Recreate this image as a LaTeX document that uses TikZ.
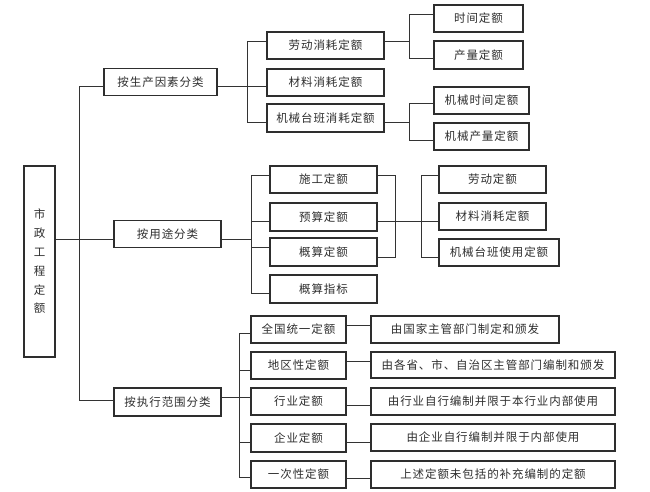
\documentclass[tikz,border=0pt]{standalone}
\usepackage{fontspec}
\setmainfont{Noto Sans CJK SC}
\newcommand\boxfont{\fontsize{11.5}{13}\selectfont\addfontfeature{LetterSpace=8}}
\newcommand\cpt[3]{\coordinate (yref) at (0,#3);\coordinate (#1) at (#2 |- yref);}
\begin{document}
\begin{tikzpicture}[x=1pt,y=-1pt,
  box/.style={draw=black!82, line width=1.2pt, fill=white, inner sep=0pt,
              text=black!82, font=\boxfont, minimum height=27pt},
  conn/.style={draw=black!80, line width=1pt}]
\fill[white] (0,0) rectangle (650,492);
\useasboundingbox (0,0) rectangle (650,492);

% root
\node[box, minimum width=31pt, minimum height=191pt, align=center,
      font=\fontsize{11.5}{18.8}\selectfont] (root) at (39.5,261.5)
      {市\\政\\工\\程\\定\\额};

% level 1
\node[box, minimum width=113pt] (A1) at (160.5,81.7) {按生产因素分类};
\node[box, minimum width=107pt] (A2) at (167.5,233.7) {按用途分类};
\node[box, minimum width=107pt, minimum height=28pt] (A3) at (167.5,402) {按执行范围分类};

% group 1
\node[box, minimum width=117pt] (B1) at (325.5,45.5) {劳动消耗定额};
\node[box, minimum width=117pt] (B2) at (325.5,82.5) {材料消耗定额};
\node[box, minimum width=117pt, minimum height=28pt] (B3) at (325.5,118) {机械台班消耗定额};
\node[box, minimum width=89pt] (C1) at (478.5,18.5) {时间定额};
\node[box, minimum width=89pt, minimum height=28pt] (C2) at (478.5,55) {产量定额};
\node[box, minimum width=95pt] (C3) at (481.5,100.5) {机械时间定额};
\node[box, minimum width=95pt] (C4) at (481.5,136.5) {机械产量定额};

% group 2
\node[box, minimum width=107pt] (D1) at (323.5,179.5) {施工定额};
\node[box, minimum width=107pt, minimum height=28pt] (D2) at (323.5,217) {预算定额};
\node[box, minimum width=107pt, minimum height=28pt] (D3) at (323.5,252) {概算定额};
\node[box, minimum width=107pt, minimum height=28pt] (D4) at (323.5,289) {概算指标};
\node[box, minimum width=107pt] (E1) at (492.5,179.5) {劳动定额};
\node[box, minimum width=107pt] (E2) at (492.5,216.5) {材料消耗定额};
\node[box, minimum width=120pt] (E3) at (499,252.5) {机械台班使用定额};

% group 3
\node[box, minimum width=95pt] (F1) at (298.5,329.5) {全国统一定额};
\node[box, minimum width=95pt] (F2) at (298.5,365.5) {地区性定额};
\node[box, minimum width=95pt] (F3) at (298.5,401.5) {行业定额};
\node[box, minimum width=95pt, minimum height=28pt] (F4) at (298.5,438) {企业定额};
\node[box, minimum width=95pt] (F5) at (298.5,474.5) {一次性定额};
\node[box, minimum width=188pt] (G1) at (465,329.5) {由国家主管部门制定和颁发};
\node[box, minimum width=244pt, minimum height=26pt] (G2) at (493,365) {由各省、市、自治区主管部门编制和颁发};
\node[box, minimum width=244pt] (G3) at (493,401.5) {由行业自行编制并限于本行业内部使用};
\node[box, minimum width=244pt] (G4) at (493,437.5) {由企业自行编制并限于内部使用};
\node[box, minimum width=244pt] (G5) at (493,474.5) {上述定额未包括的补充编制的定额};

% bus positions
\coordinate (trunk) at (79,0);
\coordinate (busB) at (247,0);
\coordinate (busC) at (409,0);
\coordinate (busD) at (251,0);
\coordinate (busE1) at (395,0);
\coordinate (busE2) at (421,0);
\coordinate (busF) at (239,0);

% connection points
\cpt{rootE}{root.east}{239.5}
\cpt{a1w}{A1.west}{87}
\cpt{a1e}{A1.east}{87}
\cpt{a2w}{A2.west}{239.5}
\cpt{a2e}{A2.east}{239.5}
\cpt{a3w}{A3.west}{400}
\cpt{a3e}{A3.east}{397}
\cpt{b1w}{B1.west}{42}
\cpt{b2w}{B2.west}{87}
\cpt{b3w}{B3.west}{123}
\cpt{b1e}{B1.east}{42}
\cpt{b3e}{B3.east}{123}
\cpt{c1w}{C1.west}{15}
\cpt{c2w}{C2.west}{59}
\cpt{c3w}{C3.west}{104}
\cpt{c4w}{C4.west}{140}
\cpt{d1w}{D1.west}{175}
\cpt{d2w}{D2.west}{221}
\cpt{d3w}{D3.west}{247}
\cpt{d4w}{D4.west}{293}
\cpt{d1e}{D1.east}{175}
\cpt{d2e}{D2.east}{221}
\cpt{d3e}{D3.east}{257}
\cpt{e1w}{E1.west}{175}
\cpt{e2w}{E2.west}{221}
\cpt{e3w}{E3.west}{257}
\cpt{f1w}{F1.west}{333}
\cpt{f2w}{F2.west}{370}
\cpt{f3w}{F3.west}{397}
\cpt{f4w}{F4.west}{442}
\cpt{f5w}{F5.west}{477}
\cpt{f1e}{F1.east}{325}
\cpt{f2e}{F2.east}{361}
\cpt{f3e}{F3.east}{405}
\cpt{f4e}{F4.east}{442}
\cpt{f5e}{F5.east}{478}
\cpt{g1w}{G1.west}{325}
\cpt{g2w}{G2.west}{361}
\cpt{g3w}{G3.west}{405}
\cpt{g4w}{G4.west}{442}
\cpt{g5w}{G5.west}{478}

% trunk
\draw[conn] (a1w) -- (a1w -| trunk) -- (a3w -| trunk) -- (a3w);
\draw[conn] (rootE) -- (a2w);

% group 1
\draw[conn] (a1e) -- (b2w);
\draw[conn] (b1w) -- (b1w -| busB) -- (b3w -| busB) -- (b3w);
\draw[conn] (b1e) -- (b1e -| busC);
\draw[conn] (c1w) -- (c1w -| busC) -- (c2w -| busC) -- (c2w);
\draw[conn] (b3e) -- (b3e -| busC);
\draw[conn] (c3w) -- (c3w -| busC) -- (c4w -| busC) -- (c4w);

% group 2
\draw[conn] (a2e) -- (a2e -| busD);
\draw[conn] (d1w) -- (d1w -| busD) -- (d4w -| busD) -- (d4w);
\draw[conn] (d2w) -- (d2w -| busD);
\draw[conn] (d3w) -- (d3w -| busD);
\draw[conn] (d1e) -- (d1e -| busE1) -- (d3e -| busE1) -- (d3e);
\draw[conn] (d2e) -- (e2w);
\draw[conn] (e1w) -- (e1w -| busE2) -- (e3w -| busE2) -- (e3w);

% group 3
\draw[conn] (a3e) -- (f3w);
\draw[conn] (f1w) -- (f1w -| busF) -- (f5w -| busF) -- (f5w);
\draw[conn] (f2w) -- (f2w -| busF);
\draw[conn] (f4w) -- (f4w -| busF);
\draw[conn] (f1e) -- (g1w);
\draw[conn] (f2e) -- (g2w);
\draw[conn] (f3e) -- (g3w);
\draw[conn] (f4e) -- (g4w);
\draw[conn] (f5e) -- (g5w);
\end{tikzpicture}
\end{document}
